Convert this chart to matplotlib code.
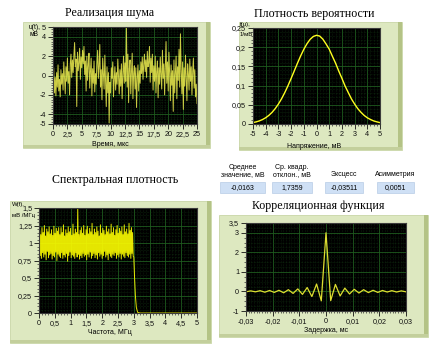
import numpy as np
import matplotlib
matplotlib.use('Agg')
import matplotlib.pyplot as plt
from matplotlib.patches import Rectangle
from matplotlib.ticker import AutoMinorLocator

W, H = 434, 344

# noise realisation, u(t) in mV, t 0..25 us
noise_u = [
    -0.5, 0.8, -1.8, -0.2, -2.1, 0.3, -1.2, 1.1, -1.6, -0.4, -2.2, 0.6, -0.9, 0.2, -1.5, 1.4, -0.3, -1.9, 0.9, -0.6,
    1.8, -0.8, 0.4, -2.0, 1.2, 2.2, -0.2, 1.6, 0.3, 2.0, 3.4, 0.9, 1.7, -3.2, 2.4, 0.5, 1.3, 2.8, -0.4, 1.9,
    0.8, 2.6, 1.2, 3.0, 0.1, 1.5, -1.6, 2.0, -0.5, 1.1, 2.3, -1.3, 0.4, 1.8, -2.1, 0.7, -0.8, 1.5, -1.7, 0.2,
    -0.9, 1.3, 2.6, -0.3, 1.0, 3.2, -1.2, 0.6, -2.5, 1.8, 0.2, -1.4, 2.1, -0.6, -3.2, 0.9, -1.8, 0.3, -4.9, -0.7,
    -1.8, 0.8, -0.3, 1.4, -2.2, -0.4, 0.9, -1.5, 0.3, -0.9, 1.7, -0.2, -1.9, 0.6, -1.1, 1.2, -2.4, 0.1, 2.0, -0.8,
    1.3, -0.6, 5.0, -1.2, 2.2, -2.8, 0.7, 1.6, -1.9, 0.4, 2.3, -2.4, 0.2, 1.0, -1.4, 0.8, -3.3, -0.3, 1.1, -1.6,
    0.5, -0.8, 1.4, 0.2, 1.9, -0.4, 1.1, 2.2, 0.4, 1.6, -0.2, 2.5, 0.9, 1.3, 3.0, -0.7, 1.8, 0.3, 2.2, -1.5,
    1.0, -0.6, 2.0, -1.8, 0.4, 1.5, -2.3, 0.8, -0.9, 1.9, 0.1, -1.4, 2.6, -0.3, 1.2, -2.0, 0.6, 3.5, -0.8, 1.4,
    -1.6, 2.4, 0.2, -2.6, 1.1, -1.0, 0.5, -3.7, 1.6, -1.8, 0.3, 2.0, -2.4, 0.9, -0.5, 2.7, -1.2, 4.3, 0.6, -1.9,
    1.4, -3.5, 0.8, -1.1, 2.1, -0.3, -2.6, 1.2, 0.2, -1.5, 1.7, -0.6, 0.9, -2.0, 0.4, 1.8, -1.3, 0.6, -2.2, -0.9, -2.9,
]

# probability density, u from -5 to 5 mV step 0.25
pdf_vals = [
    0.0037, 0.0055, 0.0081, 0.0116, 0.0163, 0.0225, 0.0303, 0.0401, 0.0519, 0.0658,
    0.0817, 0.0994, 0.1185, 0.1383, 0.1582, 0.1772, 0.1944, 0.2090, 0.2205, 0.2280,
    0.2310,
    0.2290, 0.2210, 0.2085, 0.1950, 0.1765, 0.1585, 0.1380, 0.1190, 0.0990, 0.0820,
    0.0655, 0.0520, 0.0400, 0.0305, 0.0224, 0.0162, 0.0117, 0.0080, 0.0056, 0.0036,
]

# spectral density inside band 0..3 MHz
spec_band = [
    0.55, 1.18, 0.82, 1.12, 0.78, 1.22, 0.86, 1.15, 0.80, 1.25, 0.84, 1.10, 0.76, 1.20, 0.88, 1.16,
    0.79, 1.23, 0.83, 1.13, 0.85, 1.19, 0.77, 1.11, 0.82, 1.24, 0.80, 1.14, 0.87, 1.21, 0.75, 1.17,
    0.84, 1.22, 0.81, 1.12, 0.79, 1.22, 0.86, 1.15, 0.78, 1.26, 0.83, 1.10, 0.80, 1.19, 0.85, 1.14,
    0.74, 1.23, 0.82, 1.16, 0.87, 1.21, 0.79, 1.11, 0.83, 1.27, 0.81, 1.13, 0.78, 1.20, 0.86, 1.15,
    0.80, 1.50, 0.84, 1.12, 0.77, 1.18, 0.82, 1.22, 0.79, 1.14, 0.85, 1.25, 0.81, 1.11, 0.83, 1.19,
    0.76, 1.24, 0.84, 1.13, 0.80, 1.21, 0.87, 1.16, 0.78, 1.28, 0.82, 1.12, 0.85, 1.20, 0.79, 1.15,
    0.83, 1.23, 0.77, 1.17, 0.86, 1.10, 0.81, 1.26, 0.84, 1.14, 0.78, 1.21, 0.82, 1.18, 0.88, 1.12,
    0.80, 1.24, 0.83, 1.16, 0.76, 1.20, 0.85, 1.13, 0.81, 1.27, 0.79, 1.15, 0.84, 1.22, 0.82, 1.11,
    0.86, 1.19, 0.78, 1.25, 0.83, 1.14, 0.80, 1.21, 0.85, 1.17, 0.77, 1.23, 0.84, 1.12, 0.81, 1.26,
    0.79, 1.16, 0.86, 1.20, 0.82, 1.13, 0.80, 1.28, 0.84, 1.18, 0.78, 1.22, 0.85, 1.15, 0.81, 0.80,
]
spec_tail_f = [3.02, 3.05, 3.08, 3.12, 3.2, 5.0]
spec_tail = [0.55, 0.25, 0.08, 0.01, 0.0, 0.0]

# correlation function, lag -0.03..0.03 ms
corr_vals = [
    -0.02, 0.03, -0.02, 0.04, -0.04, 0.05, -0.05, 0.06, -0.07, 0.09, -0.10, 0.13, -0.15, 0.20, -0.26, 0.38, -0.48,
    3.0,
    -0.47, 0.36, -0.23, 0.17, -0.13, 0.11, -0.08, 0.09, -0.06, 0.06, -0.05, 0.05, -0.03, 0.04, -0.03, 0.03, -0.02,
]

# indicators
ind_labels = ['Среднее\nзначение, мВ', 'Ср. квадр.\nотклон., мВ', 'Эксцесс', 'Асимметрия']
ind_values = ['-0,0163', '1,7359', '-0,03511', '0,0051']

fig = plt.figure(figsize=(W / 100, H / 100), dpi=100)
fig.patch.set_facecolor('white')


def rect(x0, y0, x1, y1):
    return [x0 / W, 1 - y1 / H, (x1 - x0) / W, (y1 - y0) / H]


def frame(x0, y0, x1, y1):
    fig.patches.append(Rectangle((x0 / W, 1 - y1 / H), (x1 - x0) / W, (y1 - y0) / H,
                                 transform=fig.transFigure, facecolor='#dde8c0',
                                 edgecolor='#c9d6a6', lw=0.6, zorder=-5))
    fig.patches.append(Rectangle(((x1 - 4) / W, 1 - y1 / H), 4 / W, (y1 - y0) / H,
                                 transform=fig.transFigure, facecolor='#b4c386',
                                 edgecolor='none', zorder=-4))
    fig.patches.append(Rectangle((x0 / W, 1 - y1 / H), (x1 - x0) / W, 3 / H,
                                 transform=fig.transFigure, facecolor='#c3cf9c',
                                 edgecolor='none', zorder=-4))


def style(ax, xlim, ylim, xt, xtl, yt, ytl, xminor, yminor):
    ax.set_facecolor('black')
    ax.set_xlim(*xlim)
    ax.set_ylim(*ylim)
    ax.set_xticks(xt)
    ax.set_xticklabels(xtl)
    ax.set_yticks(yt)
    ax.set_yticklabels(ytl)
    ax.xaxis.set_minor_locator(AutoMinorLocator(xminor))
    ax.yaxis.set_minor_locator(AutoMinorLocator(yminor))
    ax.tick_params(which='major', direction='out', length=3.5, width=0.6, pad=1.5,
                   labelsize=5.2, colors='#111111')
    ax.tick_params(which='minor', direction='out', length=1.5, width=0.5, colors='#333333')
    for lab in ax.get_xticklabels() + ax.get_yticklabels():
        lab.set_family('Liberation Sans')
    ax.grid(which='major', color='#1f5c1f', lw=0.6)
    ax.grid(which='minor', color='#143a14', lw=0.4, ls=':')
    ax.set_axisbelow(True)
    for s in ax.spines.values():
        s.set_color('#3c3c3c')
        s.set_linewidth(0.8)


def title(x, y, s):
    fig.text(x / W, 1 - y / H, s, family='Liberation Serif', fontsize=8.6,
             ha='center', va='center')


def small(x, y, s, ha='center', size=5.0):
    fig.text(x / W, 1 - y / H, s, family='Liberation Sans', fontsize=size,
             ha=ha, va='center', linespacing=1.1)


# --- panel 1: noise ---
frame(23, 22, 210, 148)
title(110, 13, 'Реализация шума')
ax1 = fig.add_axes(rect(53, 27, 197, 124))
t = np.linspace(0, 25, len(noise_u))
ax1.plot(t, noise_u, color='#f0f050', lw=0.7, alpha=0.85)
style(ax1, (0, 25), (-5, 5),
      [0, 2.5, 5, 7.5, 10, 12.5, 15, 17.5, 20, 22.5, 25],
      ['0', '2,5', '5', '7,5', '10', '12,5', '15', '17,5', '20', '22,5', '25'],
      [-5, -4, -2, 0, 2, 4, 5], ['-5', '-4', '-2', '0', '2', '4', '5'], 5, 4)
small(110, 144, 'Время, мкс')
small(29, 31, 'u(t),\nмВ', ha='left', size=4.8)

# --- panel 2: probability density ---
frame(239, 22, 402, 150)
title(314, 14, 'Плотность вероятности')
ax2 = fig.add_axes(rect(253, 28, 380, 124))
u = np.linspace(-5, 5, len(pdf_vals))
ax2.plot(u, pdf_vals, color='#ffff20', lw=1.0)
style(ax2, (-5, 5), (0, 0.25),
      list(range(-5, 6)), [str(v) for v in range(-5, 6)],
      [0, 0.05, 0.1, 0.15, 0.2, 0.25], ['0', '0,05', '0,1', '0,15', '0,2', '0,25'], 4, 5)
small(314, 146, 'Напряжение, мВ')
small(240, 24.5, 'f(u),', ha='left', size=4.4)
small(240, 34, '1/мВ', ha='left', size=4.4)

# --- indicators ---
box_x = [(220, 265), (272, 312), (325, 363), (377, 414)]
for (x0, x1), lab, val in zip(box_x, ind_labels, ind_values):
    cx = (x0 + x1) / 2
    if '\n' in lab:
        small(cx, 171, lab)
    else:
        small(cx, 175, lab)
    fig.patches.append(Rectangle((x0 / W, 1 - 193 / H), (x1 - x0) / W, 11 / H,
                                 transform=fig.transFigure, facecolor='#cfe0f5',
                                 edgecolor='#b8cce6', lw=0.5, zorder=-3))
    small(cx, 188, val)

# --- panel 3: spectral density ---
frame(10, 201, 211, 343)
title(115, 180, 'Спектральная плотность')
ax3 = fig.add_axes(rect(39, 208, 197, 313))
f = np.linspace(0, 3.0, len(spec_band))
ax3.plot(list(f) + spec_tail_f, spec_band + spec_tail, color='#ffff00', lw=0.7, alpha=0.9)
style(ax3, (0, 5), (0, 1.5),
      [0, 0.5, 1, 1.5, 2, 2.5, 3, 3.5, 4, 4.5, 5],
      ['0', '0,5', '1', '1,5', '2', '2,5', '3', '3,5', '4', '4,5', '5'],
      [0, 0.25, 0.5, 0.75, 1, 1.25, 1.5], ['0', '0,25', '0,5', '0,75', '1', '1,25', '1,5'], 5, 5)
small(110, 333, 'Частота, МГц')
small(12, 204.5, 'W(f),', ha='left', size=4.3)
small(12, 216, 'мВ /МГц', ha='left', size=4.3)

# --- panel 4: correlation ---
frame(219, 215, 428, 337)
title(318, 206, 'Корреляционная функция')
ax4 = fig.add_axes(rect(246, 223, 406, 311))
lag = np.linspace(-0.03, 0.03, len(corr_vals))
ax4.plot(lag, corr_vals, color='#dede30', lw=0.9)
style(ax4, (-0.03, 0.03), (-1, 3.5),
      [-0.03, -0.02, -0.01, 0, 0.01, 0.02, 0.03],
      ['-0,03', '-0,02', '-0,01', '0', '0,01', '0,02', '0,03'],
      [-1, 0, 1, 2, 3, 3.5], ['-1', '0', '1', '2', '3', '3,5'], 10, 4)
small(326, 331, 'Задержка, мс')

fig.savefig('out.png', dpi=100)
